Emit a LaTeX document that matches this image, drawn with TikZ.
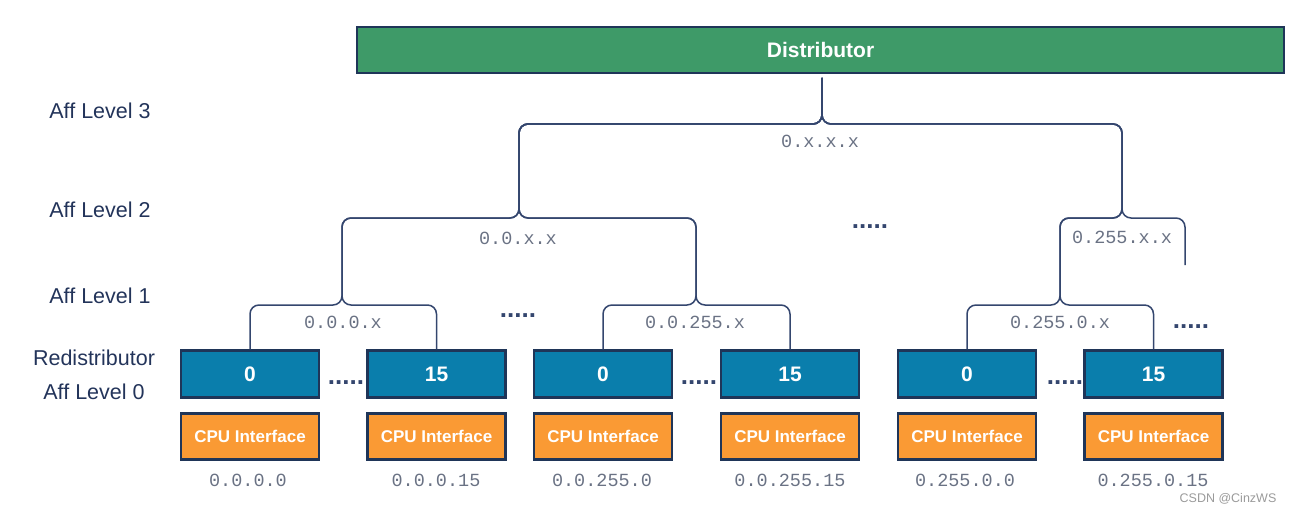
\documentclass[tikz,border=0pt]{standalone}
\usepackage{fontspec}
\setmainfont{Liberation Sans}
\newfontfamily\monofont{Liberation Mono}
\definecolor{navy}{HTML}{1F3558}
\definecolor{linec}{HTML}{34466E}
\definecolor{distg}{HTML}{3E9A68}
\definecolor{redb}{HTML}{0A7EAC}
\definecolor{cpuo}{HTML}{FA9A34}
\definecolor{addrc}{HTML}{6A7284}
\definecolor{lbl}{HTML}{23345A}
\definecolor{wmark}{HTML}{9A9A9A}
\begin{document}
\begin{tikzpicture}[x=1pt,y=-1pt,
  box/.style={draw=navy,line width=2.2pt,minimum width=138pt,inner sep=0pt,text=white},
  rbox/.style={box,fill=redb,minimum height=47pt,font=\fontsize{21}{24}\selectfont\bfseries},
  cbox/.style={box,fill=cpuo,minimum height=46pt,font=\fontsize{17}{20}\selectfont\bfseries},
  addr/.style={text=addrc,font=\monofont\fontsize{18.5}{22}\selectfont},
  lvl/.style={text=lbl,font=\fontsize{21.5}{25}\selectfont},
  dots/.style={text=linec,anchor=base,font=\fontsize{26}{30}\selectfont\bfseries},
  wire/.style={draw=linec,line width=1.5pt,rounded corners=9pt}]
\useasboundingbox (0,0) rectangle (1294,508);
% distributor
\node[draw=navy,line width=2pt,fill=distg,minimum width=927pt,minimum height=46pt,
  text=white,font=\fontsize{21}{25}\selectfont\bfseries] (dist) at (820.5,50) {Distributor};
% level labels
\node[lvl] (l3) at (100,111) {Aff Level 3};
\node[lvl] (l2) at (100,210) {Aff Level 2};
\node[lvl] (l1) at (100,296) {Aff Level 1};
\node[lvl] (lr) at (94,358) {Redistributor};
\node[lvl] (l0) at (94,392) {Aff Level 0};
% redistributors
\node[rbox] (a0) at (250,374) {0};
\node[rbox] (a15) at (436.5,374) {15};
\node[rbox] (b0) at (603,374) {0};
\node[rbox] (b15) at (790,374) {15};
\node[rbox] (c0) at (967,374) {0};
\node[rbox] (c15) at (1153.5,374) {15};
% cpu interfaces
\foreach \n/\x in {ca0/250,ca15/436.5,cb0/603,cb15/790,cc0/967,cc15/1153.5}
  \node[cbox] (\n) at (\x,436.5) {CPU Interface};
% addresses
\node[addr] (d1) at (248,480) {0.0.0.0};
\node[addr] (d2) at (436,480) {0.0.0.15};
\node[addr] (d3) at (602,480) {0.0.255.0};
\node[addr] (d4) at (790,480) {0.0.255.15};
\node[addr] (d5) at (965,480) {0.255.0.0};
\node[addr] (d6) at (1153,480) {0.255.0.15};
% junctions
\coordinate (ta) at (342,305);
\coordinate (tb) at (696,305);
\coordinate (tc) at (1060,305);
\coordinate (sl) at (519,218);
\coordinate (sr) at (1122,218);
\coordinate (top) at (822,124);
\coordinate (root) at (822,78);
\coordinate (rend) at (1185,265);
% wires
\draw[wire] (a0.north) |- (ta) |- (sl) |- (top) -- (root);
\draw[wire] (a15.north) |- (ta) |- (sl) |- (top) -- (root);
\draw[wire] (b0.north) |- (tb) |- (sl) |- (top) -- (root);
\draw[wire] (b15.north) |- (tb) |- (sl) |- (top) -- (root);
\draw[wire] (c0.north) |- (tc) |- (sr) |- (top) -- (root);
\draw[wire] (c15.north) |- (tc) |- (sr) |- (top) -- (root);
\draw[wire] (rend) |- (sr) |- (top) -- (root);
% brace labels
\node[addr] (g3) at (820,141) {0.x.x.x};
\node[addr] (g2a) at (518,238) {0.0.x.x};
\node[addr] (g2b) at (1122,237) {0.255.x.x};
\node[addr] (g1a) at (343,322) {0.0.0.x};
\node[addr] (g1b) at (695,322) {0.0.255.x};
\node[addr] (g1c) at (1060,322) {0.255.0.x};
% dots
\node[dots] (e1) at (346,384) {.....};
\node[dots] (e2) at (699,384) {.....};
\node[dots] (e3) at (1065,384) {.....};
\node[dots] (e4) at (518,317) {.....};
\node[dots] (e5) at (870,228) {.....};
\node[dots] (e6) at (1191,328) {.....};
% watermark
\node[text=wmark,font=\fontsize{12.5}{14}\selectfont,inner sep=0pt] (wm) at (1228,499) {CSDN @CinzWS};
\end{tikzpicture}
\end{document}
